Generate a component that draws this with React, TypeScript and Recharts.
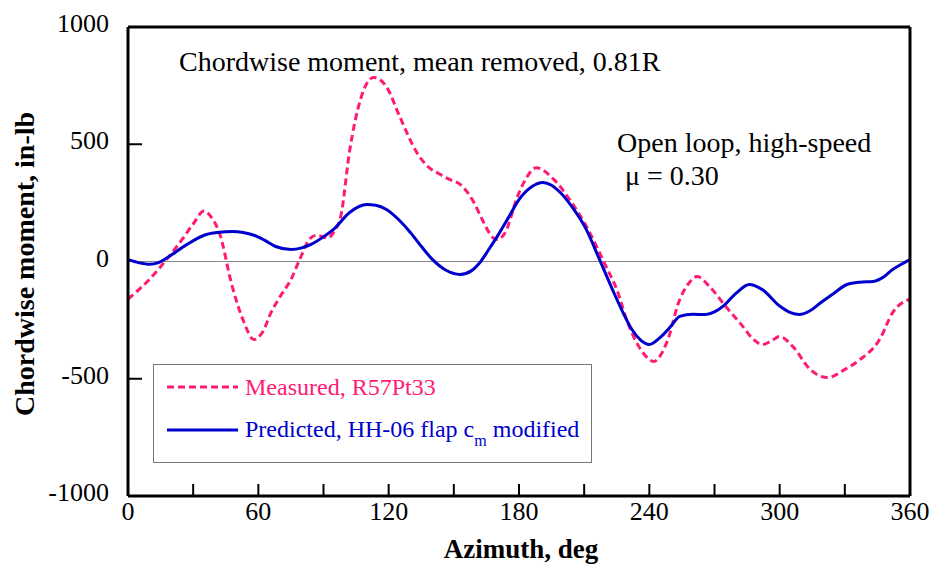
import React from 'react';
import { LineChart, Line, XAxis, YAxis, ReferenceLine } from 'recharts';

const measuredAzimuth = [0, 5, 10, 17, 25, 30, 35, 39, 42, 48, 53, 58, 62, 66, 70, 75, 79, 84, 87, 92, 95, 98, 102, 107, 113, 119, 125, 133, 138, 143, 148, 153, 159, 163, 168, 170, 174, 179, 183, 188, 196, 204, 211, 220, 225, 230, 237, 242, 248, 254, 258, 262, 268, 275, 282, 288, 292, 296, 300, 306, 314, 322, 330, 337, 346, 352, 360];
const measuredMoment = [-160, -120, -75, 0, 95, 160, 215, 180, 124, -107, -250, -333, -300, -215, -150, -77, 8, 100, 112, 100, 130, 195, 470, 690, 785, 745, 620, 464, 405, 375, 350, 328, 256, 180, 102, 94, 130, 270, 350, 400, 350, 255, 150, -20, -119, -260, -388, -426, -346, -162, -95, -64, -110, -190, -265, -333, -354, -340, -320, -362, -460, -495, -460, -418, -333, -218, -160];

const predictedAzimuth = [0, 5, 10, 14, 18, 27, 36, 42, 48, 53, 58, 63, 68, 75, 80, 84, 90, 95, 102, 110, 114, 119, 125, 130, 135, 140, 146, 153, 158, 162, 166, 170, 175, 180, 186, 191, 195, 199, 205, 211, 217, 223, 228, 232, 236, 240, 245, 250, 254, 260, 266, 270, 274, 280, 286, 292, 300, 305, 309, 314, 319, 325, 331, 337, 343, 348, 352, 356, 360];
const predictedMoment = [8, -5, -12, -5, 16, 72, 115, 125, 128, 124, 112, 90, 64, 51, 58, 72, 105, 140, 209, 243, 240, 222, 175, 124, 65, 10, -35, -55, -40, -4, 50, 107, 185, 264, 320, 337, 325, 294, 225, 136, 10, -119, -220, -290, -335, -354, -324, -275, -234, -225, -226, -215, -190, -135, -98, -120, -190, -218, -226, -210, -175, -135, -98, -88, -85, -65, -34, -12, 8];

const xTicks = [0, 30, 60, 90, 120, 150, 180, 210, 240, 270, 300, 330, 360];
const xTickLabels = [0, 60, 120, 180, 240, 300, 360];
const yTicks = [-1000, -500, 0, 500, 1000];

const measuredData = measuredAzimuth.map((az, i) => ({ az, m: measuredMoment[i] }));
const predictedData = predictedAzimuth.map((az, i) => ({ az, p: predictedMoment[i] }));

const PINK = '#FF1A75';
const BLUE = '#0000CC';
const FONT = '"Liberation Serif", "Times New Roman", serif';

const BottomTick = (props: any) => {
  const { x, y, payload } = props;
  const v = payload.value;
  return (
    <g>
      {v !== 0 && v !== 360 && <line x1={x} y1={y} x2={x} y2={y - 12} stroke="#000" strokeWidth={2} />}
      {xTickLabels.includes(v) && (
        <text x={x} y={y + 24} textAnchor="middle" fontFamily={FONT} fontSize={26} fill="#000">
          {v}
        </text>
      )}
    </g>
  );
};

const TopTick = (props: any) => {
  const { x, y, payload } = props;
  if (payload.value === 0 || payload.value === 360) return <g />;
  return <line x1={x} y1={y} x2={x} y2={y + 12} stroke="#000" strokeWidth={2} />;
};

const LeftTick = (props: any) => {
  const { x, y, payload } = props;
  const v = payload.value;
  return (
    <g>
      {Math.abs(v) === 500 && <line x1={x} y1={y} x2={x + 14} y2={y} stroke="#000" strokeWidth={2} />}
      <text x={x - 19} y={y + 5} textAnchor="end" fontFamily={FONT} fontSize={26} fill="#000">
        {v}
      </text>
    </g>
  );
};

const RightTick = (props: any) => {
  const { x, y, payload } = props;
  if (Math.abs(payload.value) === 1000) return <g />;
  return <line x1={x} y1={y} x2={x - 14} y2={y} stroke="#000" strokeWidth={2} />;
};

export default function App() {
  return (
    <div style={{ position: 'absolute', left: 0, top: 0, width: 935, height: 569, background: '#fff' }}>
      <LineChart width={935} height={569} margin={{ top: 22, right: 20, bottom: 43, left: 68 }}>
        <XAxis
          xAxisId="bottom"
          dataKey="az"
          type="number"
          domain={[0, 360]}
          ticks={xTicks}
          allowDuplicatedCategory={false}
          height={30}
          tickSize={0}
          tickMargin={0}
          axisLine={{ stroke: '#000', strokeWidth: 3 }}
          tickLine={false}
          tick={<BottomTick />}
          interval={0}
        />
        <XAxis
          xAxisId="top"
          orientation="top"
          dataKey="az"
          type="number"
          domain={[0, 360]}
          ticks={xTicks}
          allowDuplicatedCategory={false}
          height={5}
          tickSize={0}
          tickMargin={0}
          axisLine={{ stroke: '#000', strokeWidth: 3 }}
          tickLine={false}
          tick={<TopTick />}
          interval={0}
        />
        <YAxis
          yAxisId="left"
          type="number"
          domain={[-1000, 1000]}
          ticks={yTicks}
          width={60}
          tickSize={0}
          tickMargin={0}
          axisLine={{ stroke: '#000', strokeWidth: 3 }}
          tickLine={false}
          tick={<LeftTick />}
          interval={0}
        />
        <YAxis
          yAxisId="right"
          orientation="right"
          type="number"
          domain={[-1000, 1000]}
          ticks={yTicks}
          width={5}
          tickSize={0}
          tickMargin={0}
          axisLine={{ stroke: '#000', strokeWidth: 3 }}
          tickLine={false}
          tick={<RightTick />}
          interval={0}
        />
        <ReferenceLine xAxisId="bottom" yAxisId="left" y={0} stroke="#888" strokeWidth={1} />
        <Line
          xAxisId="bottom"
          yAxisId="left"
          data={measuredData}
          dataKey="m"
          name="Measured, R57Pt33"
          type="monotone"
          stroke={PINK}
          strokeWidth={3}
          strokeDasharray="7 4"
          dot={false}
          isAnimationActive={false}
        />
        <Line
          xAxisId="bottom"
          yAxisId="left"
          data={predictedData}
          dataKey="p"
          name="Predicted, HH-06 flap cm modified"
          type="monotone"
          stroke={BLUE}
          strokeWidth={3}
          dot={false}
          isAnimationActive={false}
        />
      </LineChart>
      <svg
        width={935}
        height={569}
        style={{ position: 'absolute', left: 0, top: 0, pointerEvents: 'none' }}
      >
        <g transform="translate(153, 364)">
          <rect x={0.5} y={0.5} width={438} height={98} fill="#fff" stroke="#777" strokeWidth={1} />
          <line x1={14} y1={23} x2={85} y2={23} stroke={PINK} strokeWidth={3} strokeDasharray="7 4" />
          <text x={92} y={31} fontFamily={FONT} fontSize={24} fill={PINK}>
            Measured, R57Pt33
          </text>
          <line x1={14} y1={66} x2={85} y2={66} stroke={BLUE} strokeWidth={3} />
          <text x={92} y={73} fontFamily={FONT} fontSize={24} fill={BLUE}>
            Predicted, HH-06 flap c
            <tspan dy={9} fontSize={16}>m</tspan>
            <tspan dy={-9}> modified</tspan>
          </text>
        </g>
        <text x={179} y={71} fontFamily={FONT} fontSize={28} fill="#000">
          Chordwise moment, mean removed, 0.81R
        </text>
        <text x={617} y={152} fontFamily={FONT} fontSize={28} fill="#000">
          Open loop, high-speed
        </text>
        <text x={625} y={185} fontFamily={FONT} fontSize={28} fill="#000">
          μ = 0.30
        </text>
        <text x={521} y={558} textAnchor="middle" fontFamily={FONT} fontSize={27} fontWeight="bold" fill="#000">
          Azimuth, deg
        </text>
        <text
          x={34}
          y={264}
          textAnchor="middle"
          fontFamily={FONT}
          fontSize={28}
          fontWeight="bold"
          fill="#000"
          transform="rotate(-90, 34, 264)"
        >
          Chordwise moment, in-lb
        </text>
      </svg>
    </div>
  );
}
